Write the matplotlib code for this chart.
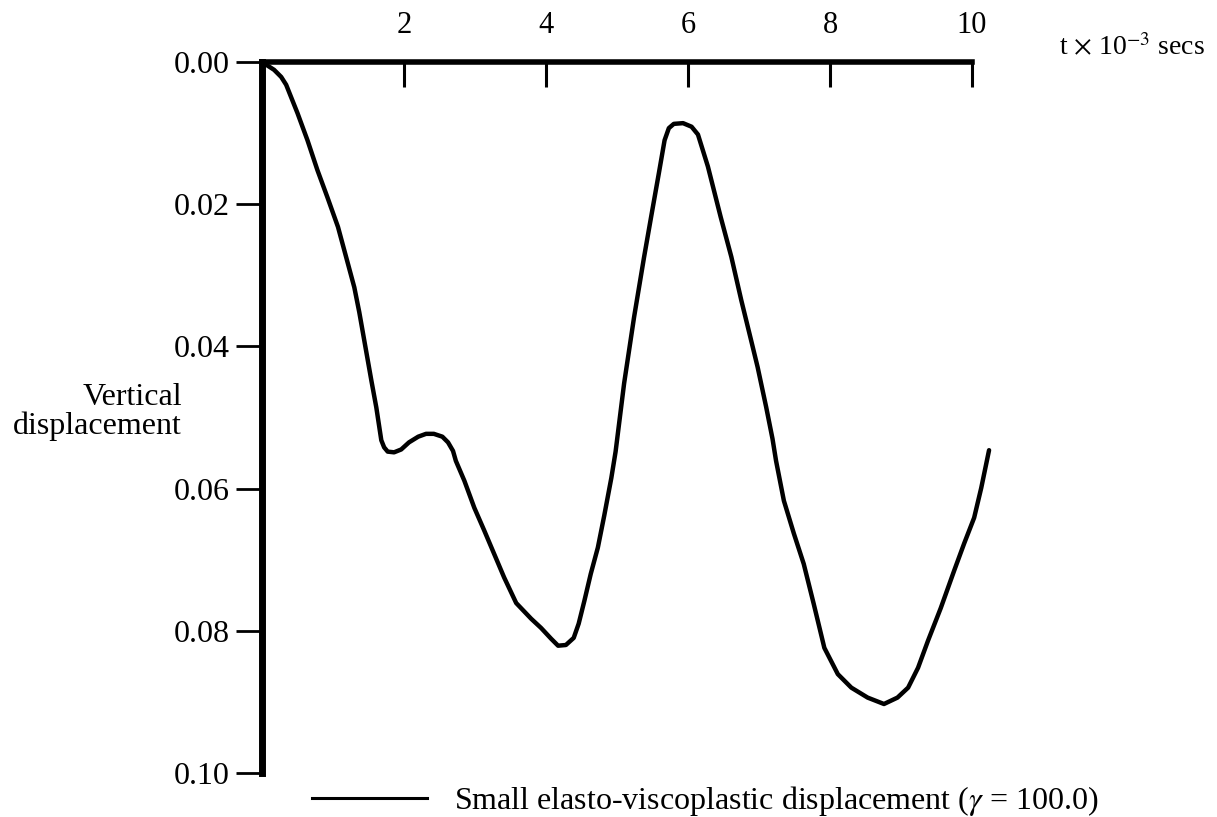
import matplotlib
matplotlib.use("Agg")
import matplotlib.pyplot as plt
from matplotlib.lines import Line2D

# Valeurs (t en 10^-3 s, déplacement vertical)
t_values = [0.0, 0.17, 0.27, 0.34, 0.50, 0.64, 0.78, 0.92, 1.07, 1.20, 1.30,
            1.37, 1.54, 1.61, 1.68, 1.72, 1.77, 1.86, 1.96, 2.07, 2.20, 2.31,
            2.42, 2.54, 2.62, 2.69, 2.73, 2.85, 2.99, 3.13, 3.27, 3.41, 3.58,
            3.79, 3.93, 4.07, 4.17, 4.28, 4.39, 4.46, 4.54, 4.63, 4.73, 4.82,
            4.92, 4.98, 5.10, 5.24, 5.38, 5.48, 5.59, 5.67, 5.73, 5.80, 5.93,
            6.05, 6.14, 6.28, 6.46, 6.61, 6.75, 6.89, 6.98, 7.10, 7.19, 7.24,
            7.35, 7.49, 7.63, 7.77, 7.92, 8.11, 8.30, 8.53, 8.76, 8.95, 9.10,
            9.24, 9.38, 9.56, 9.75, 9.89, 10.03, 10.13, 10.24]
displacement = [0.0, 0.0011, 0.0021, 0.0032, 0.0072, 0.0110, 0.0152, 0.0190,
                0.0232, 0.0280, 0.0317, 0.0352, 0.0448, 0.0486, 0.0532, 0.0542,
                0.0548, 0.0549, 0.0545, 0.0535, 0.0527, 0.0523, 0.0523, 0.0527,
                0.0535, 0.0547, 0.0561, 0.0589, 0.0627, 0.0659, 0.0692, 0.0725,
                0.0761, 0.0783, 0.0796, 0.0811, 0.0821, 0.0820, 0.0810, 0.0790,
                0.0758, 0.0720, 0.0683, 0.0638, 0.0585, 0.0548, 0.0452, 0.0359,
                0.0275, 0.0218, 0.0156, 0.0110, 0.0093, 0.0087, 0.0086, 0.0091,
                0.0102, 0.0147, 0.0218, 0.0274, 0.0335, 0.0392, 0.0429, 0.0485,
                0.0530, 0.0561, 0.0617, 0.0663, 0.0706, 0.0762, 0.0824, 0.0861,
                0.0880, 0.0894, 0.0903, 0.0894, 0.0880, 0.0852, 0.0814, 0.0768,
                0.0715, 0.0677, 0.0641, 0.0599, 0.0546]

x_ticks = [2, 4, 6, 8, 10]
y_ticks = [0.00, 0.02, 0.04, 0.06, 0.08, 0.10]
y_ticklabels = ["0.00", "0.02", "0.04", "0.06", "0.08", "0.10"]
legend_label = "Small elasto-viscoplastic displacement ($\\gamma$ = 100.0)"

plt.rcParams['font.family'] = ['Liberation Serif', 'DejaVu Serif']
plt.rcParams['mathtext.fontset'] = 'stix'

fig = plt.figure(figsize=(12.17, 8.17), dpi=100)
ax = fig.add_axes([0.2153, 0.0539, 0.5834, 0.8702])

ax.plot(t_values, displacement, color='black', lw=3.2, clip_on=False,
        solid_joinstyle='round', solid_capstyle='round')

ax.set_xlim(0, 10)
ax.set_ylim(0.10, 0.00)

# axe des x en haut
ax.xaxis.tick_top()
ax.set_xticks(x_ticks)
ax.set_yticks(y_ticks)
ax.set_yticklabels(y_ticklabels)

for side in ['right', 'bottom']:
    ax.spines[side].set_visible(False)
ax.spines['top'].set_linewidth(4.0)
ax.spines['left'].set_linewidth(5.0)

ax.tick_params(axis='x', direction='in', length=18, width=2.2, pad=16,
               labelsize=22)
ax.tick_params(axis='y', direction='out', length=19, width=2.0, pad=4,
               labelsize=23)

fig.text(1205 / 1217, 1 - 48 / 817, "t $\\times$ 10$^{-3}$ secs", ha='right',
         va='center', fontsize=20)
fig.text(182 / 1217, 1 - 412 / 817, "Vertical\ndisplacement", ha='right',
         va='center', fontsize=23, linespacing=0.95)

handle = Line2D([], [], color='black', lw=2.2)
fig.legend([handle], [legend_label], loc='center left',
           bbox_to_anchor=(283 / 1217, 1 - 801 / 817), frameon=False,
           fontsize=23, handlelength=3.6, handletextpad=0.85)

fig.savefig("out.png", dpi=100)
